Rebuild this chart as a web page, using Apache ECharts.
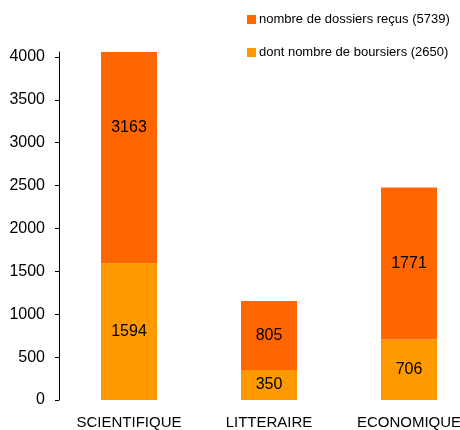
<!DOCTYPE html>
<html>
<head>
<meta charset="utf-8">
<script src="https://cdn.jsdelivr.net/npm/echarts@6/dist/echarts.min.js"></script>
<style>
  html, body { margin: 0; padding: 0; background: #fff; }
  #chart { width: 460px; height: 430px; }
</style>
</head>
<body>
<div id="chart"></div>
<script>
const categories = ['SCIENTIFIQUE', 'LITTERAIRE', 'ECONOMIQUE']
const boursiers = [1594, 350, 706]
const dossiers = [3163, 805, 1771]
const yTicks = [0, 500, 1000, 1500, 2000, 2500, 3000, 3500, 4000]
const legendNames = ['nombre de dossiers reçus (5739)', 'dont nombre de boursiers (2650)']

const chart = echarts.init(document.getElementById('chart'))

// the tall bar is cut at the top of the plot, its label stays at the middle of the whole segment
const dossierData = dossiers.map((v, i) => i === 0 ? { value: v, label: { offset: [0, -30] } } : v)

chart.setOption({
  animation: false,
  textStyle: { fontFamily: 'Liberation Sans, Arial, sans-serif' },
  legend: {
    orient: 'vertical',
    left: 247,
    top: 13,
    padding: 0,
    itemWidth: 9,
    itemHeight: 9,
    itemGap: 20,
    icon: 'rect',
    textStyle: { fontSize: 13, color: '#000', padding: [0, 0, 0, -2] },
    data: legendNames
  },
  grid: {
    left: 59,
    width: 420,
    top: 52,
    bottom: 30,
    outerBoundsMode: 'none',
    containLabel: false
  },
  xAxis: {
    type: 'category',
    data: categories,
    axisLine: { show: false },
    axisTick: { show: false },
    axisLabel: { fontSize: 15, color: '#000', margin: 15, interval: 0, hideOverlap: false }
  },
  yAxis: {
    type: 'value',
    min: 0,
    max: 4058,
    interval: 500,
    splitLine: { show: false },
    axisLine: { show: true, lineStyle: { color: '#000', width: 1 } },
    axisTick: { show: true, inside: false, length: 4, customValues: yTicks, lineStyle: { color: '#000' } },
    axisLabel: { fontSize: 16, color: '#000', margin: 14, customValues: yTicks, formatter: v => String(v) }
  },
  series: [
    {
      name: legendNames[1],
      type: 'bar',
      stack: 'total',
      barWidth: 56,
      data: boursiers,
      itemStyle: { color: '#FF9900' },
      label: { show: true, position: 'inside', fontSize: 16, color: '#000' }
    },
    {
      name: legendNames[0],
      type: 'bar',
      stack: 'total',
      barWidth: 56,
      clip: true,
      data: dossierData,
      itemStyle: { color: '#FF6600' },
      label: { show: true, position: 'inside', fontSize: 16, color: '#000' }
    }
  ]
})
</script>
</body>
</html>
